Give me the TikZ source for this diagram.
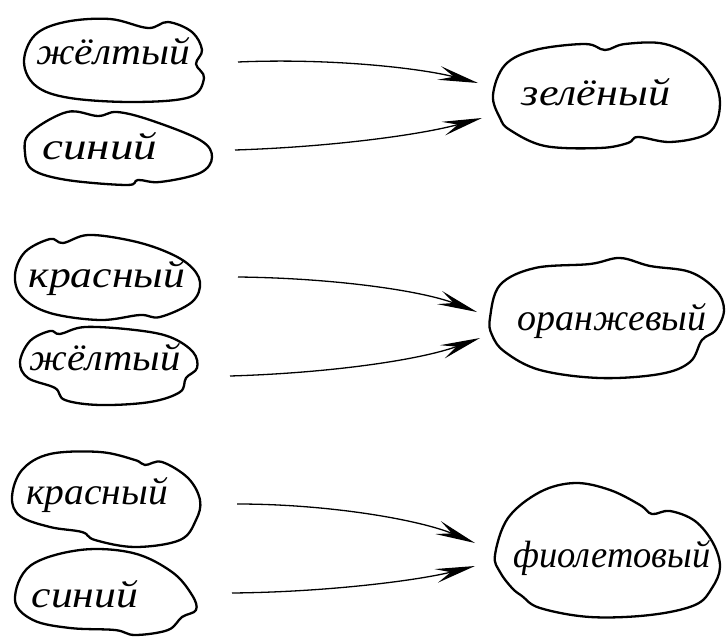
\documentclass[tikz,border=0pt]{standalone}
\usepackage{fontspec}
\setmainfont{Liberation Serif}
\usetikzlibrary{arrows.meta}
\tikzset{
  cloudline/.style={line width=2.3pt, line join=round},
  word/.style={font=\fontsize{38}{40}\selectfont\itshape, anchor=base, inner sep=0pt},
  link/.style={line width=1.3pt, -{Stealth[length=40pt,width=14pt,inset=15pt]}}
}
\newcommand{\wstretch}[2]{\scalebox{#1}[1]{#2}}
\begin{document}
\begin{tikzpicture}[x=1pt,y=-1pt]
\useasboundingbox (0,0) rectangle (728,637);
% clouds
\draw[cloudline] plot[smooth cycle, tension=0.6] coordinates {(24,62) (35,35) (65,22) (110,19) (148,28) (168,22) (192,32) (202,50) (196,64) (204,78) (190,97) (135,102) (70,98) (36,86)};
\draw[cloudline] plot[smooth cycle, tension=0.6] coordinates {(25,153) (30,133) (67,112) (98,116) (117,112) (150,120) (200,140) (212,157) (200,173) (160,182) (138,180) (127,185) (67,180) (33,170)};
\draw[cloudline] plot[smooth cycle, tension=0.6] coordinates {(493,95) (505,65) (535,50) (585,44) (605,50) (625,44) (665,44) (700,62) (718,90) (718,118) (705,135) (670,142) (638,137) (628,143) (600,148) (545,146) (510,130) (500,118)};
\draw[cloudline] plot[smooth cycle, tension=0.6] coordinates {(15,275) (25,252) (50,239) (63,243) (88,235) (128,240) (162,250) (188,264) (200,282) (192,302) (160,317) (140,315) (100,320) (50,313) (22,297)};
\draw[cloudline] plot[smooth cycle, tension=0.6] coordinates {(20,362) (30,341) (50,331) (60,334) (85,327) (135,330) (170,337) (193,352) (197,368) (186,378) (180,392) (150,402) (100,405) (65,400) (55,388) (28,378)};
\draw[cloudline] plot[smooth cycle, tension=0.6] coordinates {(490,318) (500,285) (535,268) (590,264) (620,258) (650,266) (690,272) (716,290) (724,310) (716,330) (702,340) (690,362) (660,374) (600,378) (540,370) (505,352) (492,335)};
\draw[cloudline] plot[smooth cycle, tension=0.6] coordinates {(12,497) (22,470) (50,454) (100,452) (135,460) (145,465) (162,462) (188,478) (200,500) (196,520) (180,540) (135,547) (95,540) (82,532) (50,527) (20,516)};
\draw[cloudline] plot[smooth cycle, tension=0.6] coordinates {(15,600) (30,566) (80,550) (133,553) (172,572) (192,595) (196,610) (182,617) (168,630) (135,635) (115,630) (70,628) (33,620)};
\draw[cloudline] plot[smooth cycle, tension=0.6] coordinates {(495,555) (508,518) (540,492) (575,483) (610,490) (640,505) (652,514) (670,511) (695,521) (713,543) (720,567) (712,588) (695,605) (650,615) (590,617) (540,608) (522,596) (512,588) (500,572)};
% words
\node[word] (l1) at (113,64) {\wstretch{1.09}{жёлтый}};
\node[word] (l2) at (100,159) {\wstretch{1.24}{синий}};
\node[word] (l3) at (107,287) {\wstretch{1.15}{красный}};
\node[word] (l4) at (105,370) {\wstretch{1.07}{жёлтый}};
\node[word] (l5) at (97,504) {\wstretch{1.04}{красный}};
\node[word] (l6) at (85,607) {\wstretch{1.15}{синий}};
\node[word] (r1) at (596,105) {\wstretch{1.16}{зелёный}};
\node[word] (r2) at (612,330) {\wstretch{1.0}{оранжевый}};
\node[word] (r3) at (612,567) {\wstretch{0.96}{фиолетовый}};
% arrow ends
\coordinate (a1s) at (238,62);  \coordinate (a1e) at (478,83);
\coordinate (a2s) at (235,150); \coordinate (a2e) at (482,118);
\coordinate (a3s) at (238,277); \coordinate (a3e) at (477,312);
\coordinate (a4s) at (230,376); \coordinate (a4e) at (480,338);
\coordinate (a5s) at (237,504); \coordinate (a5e) at (475,543);
\coordinate (a6s) at (232,593); \coordinate (a6e) at (475,566);
\draw[link] (a1s) .. controls (330,58) and (420,68) .. (a1e);
\draw[link] (a2s) .. controls (330,147) and (420,135) .. (a2e);
\draw[link] (a3s) .. controls (330,278) and (420,290) .. (a3e);
\draw[link] (a4s) .. controls (330,373) and (420,360) .. (a4e);
\draw[link] (a5s) .. controls (330,504) and (420,520) .. (a5e);
\draw[link] (a6s) .. controls (330,592) and (420,580) .. (a6e);
\end{tikzpicture}
\end{document}
